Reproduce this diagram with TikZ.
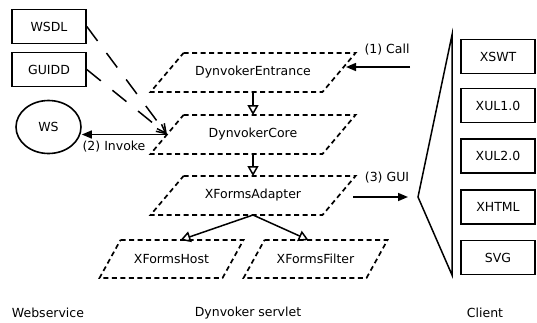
\documentclass[tikz,border=0pt]{standalone}
\usepackage{fontspec}
\setmainfont{DejaVu Sans}
\usetikzlibrary{positioning, arrows.meta, shapes.geometric}

% slanted outline round a component node: #1 name, #2 half slant
\newcommand{\para}[2]{%
  \draw[compline] ([xshift=#2]#1.north west) -- ([xshift=#2]#1.north east)
    -- ([xshift=-#2]#1.south east) -- ([xshift=-#2]#1.south west) -- cycle;}

\begin{document}
\begin{tikzpicture}[x=1pt,y=-1pt,>=Stealth,font=\fontsize{12.5}{14}\selectfont,
  box/.style={draw,line width=1.6pt,minimum width=74pt,minimum height=34pt,inner sep=0pt},
  comp/.style={minimum width=172pt,minimum height=39pt,inner sep=0pt,outer sep=0pt},
  sub/.style={comp,minimum width=123pt,minimum height=38pt},
  compline/.style={dash pattern=on 5pt off 3.5pt,line width=1.7pt},
  call/.style={-{Triangle[length=10pt,width=8pt]},line width=1.5pt},
  inherit/.style={-{Triangle[open,length=10pt,width=11pt]},line width=1.5pt},
  uses/.style={-{Straight Barb[length=9pt,width=9pt]},line width=1.5pt,
    dash pattern=on 18pt off 15pt}]
  \useasboundingbox (0,0) rectangle (537,322);
  % Webservice
  \node[box] (wsdl) at (49,26.5) {WSDL};
  \node[box] (guidd) at (49,69.5) {GUIDD};
  \node[draw,ellipse,line width=1.6pt,minimum width=65pt,minimum height=53pt,
        inner sep=0pt] (ws) at (48.5,127) {WS};
  % Dynvoker servlet
  \node[comp] (entrance) at (253,72.5) {DynvokerEntrance};
  \node[comp] (core) at (253,134.5) {DynvokerCore};
  \node[comp] (adapter) at (253,195.5) {XFormsAdapter};
  \node[sub] (host) at (171.5,259) {XFormsHost};
  \node[sub] (filter) at (315.5,259) {XFormsFilter};
  \para{entrance}{16.5pt}
  \para{core}{16.5pt}
  \para{adapter}{16.5pt}
  \para{host}{10.5pt}
  \para{filter}{10.5pt}
  \draw[inherit] (entrance.south) -- (core.north);
  \draw[inherit] (core.south) -- (adapter.north);
  \draw[inherit] (adapter.south) -- ([xshift=9pt]host.north);
  \draw[inherit] (adapter.south) -- ([xshift=-7pt]filter.north);
  \draw[uses] (wsdl.east) -- (core.west);
  \draw[uses] (guidd.east) -- (core.west);
  % Client
  \node[box] (xswt) at (498,56.5) {XSWT};
  \node[box] (xul1) at (498,105.5) {XUL1.0};
  \node[box] (xul2) at (498,156) {XUL2.0};
  \node[box] (xhtml) at (498,207) {XHTML};
  \node[box] (svg) at (498,257.5) {SVG};
  \coordinate (brtop) at (452,35);
  \coordinate (brtip) at (418,197);
  \coordinate (brbot) at (452,275);
  \draw[line width=1.5pt,line join=miter] (brtop) -- (brtip) -- (brbot) -- cycle;
  % calls
  \coordinate (callin) at (410,67);
  \draw[call] (callin) -- ([xshift=7pt]callin -| entrance.east);
  \node (calltxt) at (387,50) {(1) Call};
  \draw[call] (core.west) -- (core.west -| ws.east);
  \node (invtxt) at (114,147) {(2) Invoke};
  \coordinate (guiout) at (353,197);
  \coordinate (guiin) at (408,197);
  \draw[call] (guiout) -- (guiin);
  \node (guitxt) at (387,178) {(3) GUI};
  % tiers
  \node (webtxt) at (48,313) {Webservice};
  \node (servtxt) at (248,313) {Dynvoker servlet};
  \node (clienttxt) at (485,313) {Client};
\end{tikzpicture}
\end{document}
